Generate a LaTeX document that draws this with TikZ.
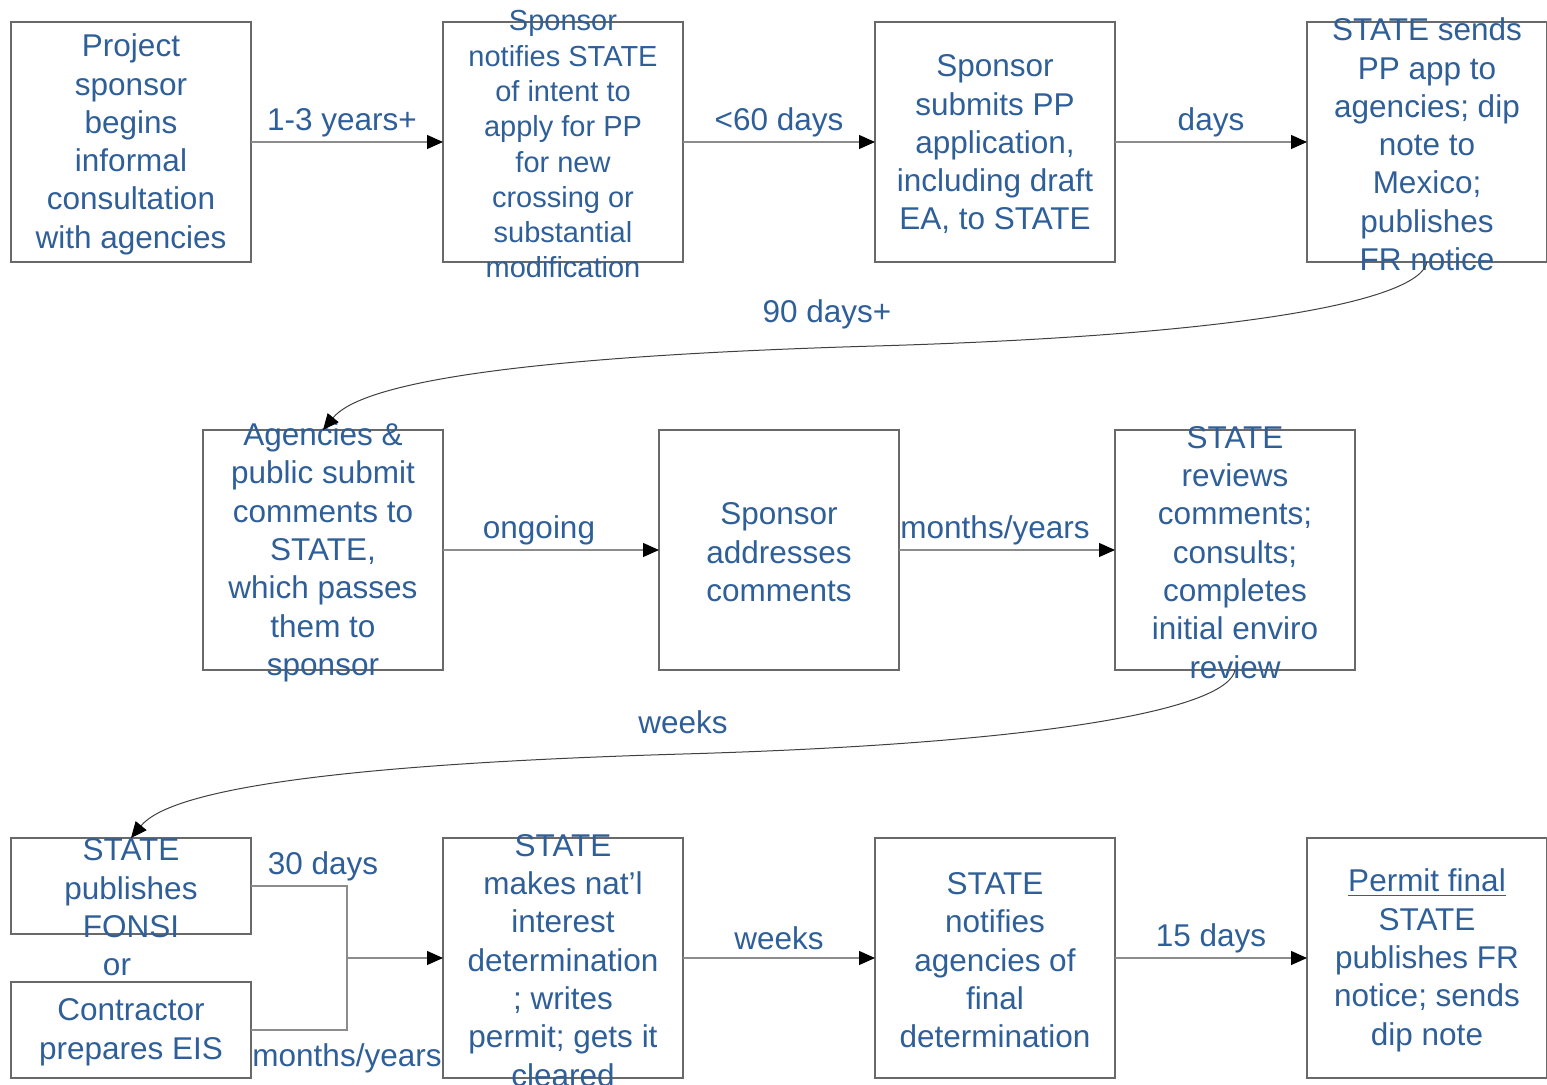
\documentclass[tikz,border=0pt]{standalone}
\usepackage{fontspec}
\setmainfont{Liberation Sans}
\usetikzlibrary{arrows.meta,positioning}
\definecolor{stateblue}{RGB}{47,95,152}
\definecolor{boxgray}{RGB}{105,105,105}
\definecolor{linegray}{RGB}{140,140,140}

\begin{document}
\begin{tikzpicture}[
    x=0.5pt, y=-0.5pt,
    node distance=96pt,
    stage/.style={draw=boxgray, line width=0.75pt, minimum width=120pt, minimum height=120pt, inner sep=0pt, outer sep=0pt},
    short/.style={stage, minimum height=48pt},
    txt/.style={text=stateblue, align=center, inner sep=0pt, yshift=-1.2pt, font=\fontsize{15.75}{19.15}\selectfont},
    small/.style={txt, font=\fontsize{14.5}{17.65}\selectfont},
    lbl/.style={txt},
    link/.style={draw=linegray, line width=0.6pt},
    arrow/.style={link, -{Triangle[length=8pt,width=7pt,color=black]}},
    curvelink/.style={draw=black!75, line width=0.5pt, -{Triangle[length=8pt,width=7pt,color=black]}}
  ]
    \useasboundingbox (0,0) rectangle (1547,1085);

    % first row
    \node[stage] (consult) at (131,142) {};
    \node[stage, right=of consult] (intent) {};
    \node[stage, right=of intent] (submit) {};
    \node[stage, right=of submit] (sends) {};

    % second row
    \node[stage] (comments) at (323,550) {};
    \node[stage, right=108pt of comments] (address) {};
    \node[stage, right=108pt of address] (review) {};

    % third row
    \node[short] (fonsi) at (131,886) {};
    \node[short] (eis) at (131,1030) {};
    \node[stage] (nid) at (563,958) {};
    \node[stage, right=of nid] (notify) {};
    \node[stage, right=of notify] (final) {};

    % box texts
    \node[txt] (consultT) at (consult) {Project\\sponsor\\begins\\informal\\consultation\\with agencies};
    \node[small] (intentT) at (intent) {Sponsor\\notifies STATE\\of intent to\\apply for PP\\for new\\crossing or\\substantial\\modification};
    \node[txt] (submitT) at (submit) {Sponsor\\submits PP\\application,\\including draft\\EA, to STATE};
    \node[txt] (sendsT) at (sends) {STATE sends\\PP app to\\agencies; dip\\note to\\Mexico;\\publishes\\FR notice};
    \node[txt] (commentsT) at (comments) {Agencies \&\\public submit\\comments to\\STATE,\\which passes\\them to\\sponsor};
    \node[txt] (addressT) at (address) {Sponsor\\addresses\\comments};
    \node[txt] (reviewT) at (review) {STATE\\reviews\\comments;\\consults;\\completes\\initial enviro\\review};
    \node[txt] (fonsiT) at (fonsi) {STATE\\publishes\\FONSI};
    \node[txt] (eisT) at (eis) {Contractor\\prepares EIS};
    \node[txt] (nidT) at (nid) {STATE\\makes nat’l\\interest\\determination\\; writes\\permit; gets it\\cleared};
    \node[txt] (notifyT) at (notify) {STATE\\notifies\\agencies of\\final\\determination};
    \node[txt] (finalT) at (final) {\underline{Permit final}\\STATE\\publishes FR\\notice; sends\\dip note};
    \node[lbl] (orT) at (117,965) {or};

    % connectors
    \draw[arrow] (consult) -- (intent);
    \draw[arrow] (intent) -- (submit);
    \draw[arrow] (submit) -- (sends);
    \coordinate (mid1) at (875,346);
    \draw[curvelink] (sends.south) .. controls (1420,300) and (1250,335) .. (mid1)
      .. controls (500,357) and (360,385) .. (comments.north);
    \draw[arrow] (comments) -- (address);
    \draw[arrow] (address) -- (review);
    \coordinate (mid2) at (683,754);
    \draw[curvelink] (review.south) .. controls (1228,708) and (1058,743) .. (mid2)
      .. controls (308,765) and (168,793) .. (fonsi.north);
    \coordinate (join) at (347,958);
    \draw[link] (fonsi.east) -| (join);
    \draw[link] (eis.east) -| (join);
    \draw[arrow] (join) -- (nid.west);
    \draw[arrow] (nid) -- (notify);
    \draw[arrow] (notify) -- (final);

    % connector labels
    \node[lbl] (yearsL) at (342,120) {1-3 years+};
    \node[lbl] (sixtyL) at (779,120) {<60 days};
    \node[lbl] (daysL) at (1211,120) {days};
    \node[lbl] (ninetyL) at (827,312) {90 days+};
    \node[lbl] (ongoingL) at (539,528) {ongoing};
    \node[lbl] (monthsL) at (995,528) {months/years};
    \node[lbl] (weeksL) at (683,720) {weeks};
    \node[lbl] (thirtyL) at (323,864) {30 days};
    \node[lbl] (eisL) at (347,1056) {months/years};
    \node[lbl] (weeksL2) at (779,936) {weeks};
    \node[lbl] (fifteenL) at (1211,936) {15 days};
  \end{tikzpicture}
\end{document}
